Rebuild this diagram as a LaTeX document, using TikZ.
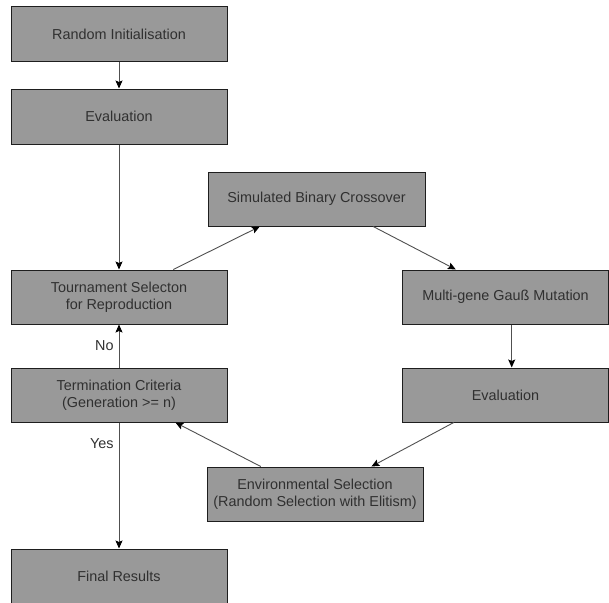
\documentclass[tikz,border=0pt]{standalone}
\usepackage{fontspec}
\setmainfont{Liberation Sans}
\usetikzlibrary{arrows.meta,calc}
\definecolor{boxfill}{HTML}{999999}
\definecolor{boxline}{HTML}{1E1E1E}
\definecolor{txt}{HTML}{303030}
\definecolor{wire}{HTML}{505050}
\begin{document}
\begin{tikzpicture}[x=1pt,y=-1pt,
  stage/.style={draw=boxline,line width=1pt,fill=boxfill,text=txt,
    minimum width=216pt,minimum height=54pt,inner sep=0pt,align=center,
    font=\fontsize{14.4pt}{17pt}\selectfont},
  flow/.style={draw=wire,line width=0.9pt,
    -{Stealth[length=8pt,width=7pt,inset=1.5pt,color=black]}},
  lbl/.style={text=txt,font=\fontsize{14.4pt}{17pt}\selectfont,inner sep=0pt}]
\useasboundingbox (0,0) rectangle (609,602);
\clip (0,0) rectangle (609,602);
\fill[white] (0,0) rectangle (609,602);

% left column
\node[stage] (init)  at (119,34)    {Random Initialisation};
\node[stage,minimum height=55pt] (eval1) at (119,116.5) {Evaluation};
\node[stage] (tour)  at (119,297)   {Tournament Selecton\\for Reproduction};
\node[stage] (term)  at (119,395)   {Termination Criteria\\(Generation >= n)};
\node[stage] (final) at (119,576)   {Final Results};

% variation loop
\node[stage,minimum width=217pt] (sbx) at (316.5,199) {Simulated Binary Crossover};
\node[stage,minimum width=206pt] (mut) at (505.5,297) {Multi-gene Gauß Mutation};
\node[stage,minimum width=206pt] (eval2) at (505.5,395) {Evaluation};
\node[stage] (env) at (315,494) {Environmental Selection\\(Random Selection with Elitism)};

% connectors
\draw[flow] (init) -- (eval1);
\draw[flow] (eval1) -- (tour);
\draw[flow] ($(tour.north west)!0.75!(tour.north east)$) -- ($(sbx.south west)!0.24!(sbx.south east)$);
\draw[flow] ($(sbx.south west)!0.76!(sbx.south east)$) -- ($(mut.north west)!0.26!(mut.north east)$);
\draw[flow] ($(mut.south west)!0.53!(mut.south east)$) -- ($(eval2.north west)!0.53!(eval2.north east)$);
\draw[flow] ($(eval2.south west)!0.25!(eval2.south east)$) -- ($(env.north west)!0.76!(env.north east)$);
\draw[flow] ($(env.north west)!0.25!(env.north east)$) -- ($(term.south west)!0.76!(term.south east)$);
\draw[flow] (term) -- node[lbl,left=5pt] (no) {No} (tour);
\draw[flow] (term.south) -- node[lbl,pos=0.17,left=5pt] (yes) {Yes} (final.north);
\end{tikzpicture}
\end{document}
